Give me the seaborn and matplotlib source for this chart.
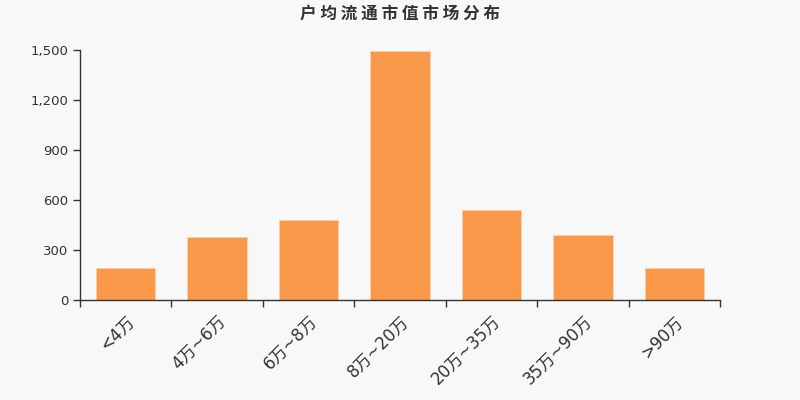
import matplotlib
matplotlib.use("Agg")
import matplotlib.pyplot as plt
import numpy as np
import pandas as pd
import seaborn as sns
from matplotlib.ticker import FuncFormatter

# 数据：户均流通市值分布
categories = ["<4万", "4万~6万", "6万~8万", "8万~20万", "20万~35万", "35万~90万", ">90万"]
counts = [194, 378, 480, 1494, 538, 390, 192]

TITLE = "户均流通市值市场分布"
BG = "#f8f8f8"
BAR = "#f89848"
TEXT = "#333333"

sns.set_theme(style="white")
plt.rcParams["font.family"] = ["DejaVu Sans", "Noto Sans CJK SC"]
plt.rcParams["axes.unicode_minus"] = False

df = pd.DataFrame({"区间": categories, "户数": counts})

fig = plt.figure(figsize=(8, 4), dpi=100, facecolor=BG)
ax = fig.add_axes([0.1, 0.25, 0.8, 0.625])
ax.set_facecolor(BG)

sns.barplot(data=df, x="区间", y="户数", ax=ax, color=BAR, width=0.65,
            saturation=1, edgecolor="#fbd0ac", linewidth=0.6)

ax.set_xlim(-0.5, len(categories) - 0.5)
ax.set_ylim(0, 1500)
ax.set_yticks(np.arange(0, 1501, 300))
ax.yaxis.set_major_formatter(FuncFormatter(lambda v, _: f"{int(v):,}"))

# 刻度线放在类别分界处，标签居中在柱下方
ax.set_xticks(np.arange(len(categories)))
ax.set_xticklabels(categories, rotation=45, ha="right", rotation_mode="anchor",
                   fontsize=12, color=TEXT)
ax.set_xticks(np.arange(-0.5, len(categories)), minor=True)
ax.tick_params(axis="x", which="major", length=0, pad=9)
ax.tick_params(axis="x", which="minor", length=5, width=1, color=TEXT, bottom=True)
ax.tick_params(axis="y", length=5, width=1, color=TEXT, left=True,
               labelsize=9.5, labelcolor=TEXT)

ax.set_xlabel("")
ax.set_ylabel("")
for side in ["top", "right"]:
    ax.spines[side].set_visible(False)
for side in ["left", "bottom"]:
    ax.spines[side].set_color(TEXT)
    ax.spines[side].set_linewidth(1)

fig.text(0.5, 0.965, " ".join(TITLE), ha="center", va="center",
         fontsize=12, fontweight="bold", color=TEXT,
         family=["Noto Sans CJK SC", "DejaVu Sans"])

fig.savefig("out.png", dpi=100, facecolor=BG)
